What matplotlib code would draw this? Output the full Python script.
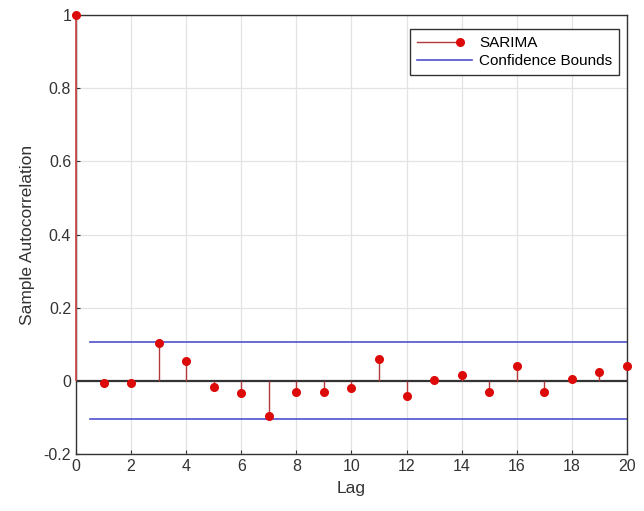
import matplotlib
matplotlib.use("Agg")
import matplotlib.pyplot as plt
from matplotlib.lines import Line2D
from matplotlib.ticker import FormatStrFormatter

lags = list(range(21))
acf_values = [1.0, -0.005, -0.005, 0.103, 0.054, -0.016, -0.033, -0.095, -0.030, -0.030,
              -0.019, 0.061, -0.041, 0.001, 0.016, -0.030, 0.040, -0.030, 0.005, 0.023, 0.040]
conf_bound = 0.105
x_ticks = list(range(0, 21, 2))
y_ticks = [-0.2, 0, 0.2, 0.4, 0.6, 0.8, 1.0]

plt.rcParams["font.family"] = ["Liberation Sans", "DejaVu Sans"]

stem_color = "#b23a3a"
marker_color = "#dd0a0a"
bound_color = "#5050d0"


class StemHandler:
    # line with a single marker at its right end, like MATLAB's stem legend
    def legend_artist(self, legend, orig_handle, fontsize, handlebox):
        x0, y0 = handlebox.xdescent, handlebox.ydescent
        w, h = handlebox.width, handlebox.height
        y = h / 2 - y0
        x_end = -x0 + w * 0.78
        line = Line2D([-x0, x_end], [y, y], color=stem_color, linewidth=1.0)
        dot = Line2D([x_end], [y], linestyle="none", marker="o",
                     color=marker_color, markersize=5.5)
        handlebox.add_artist(line)
        handlebox.add_artist(dot)
        return line


fig = plt.figure(figsize=(6.44, 5.11), dpi=100)
ax = fig.add_axes([0.118, 0.1115, 0.8556, 0.8591])

ax.axhline(0, color="#333333", linewidth=1.6, zorder=2)
ax.vlines(lags[1:], 0, acf_values[1:], color=stem_color, linewidth=1.0, zorder=3)
ax.vlines(lags[:1], 0, acf_values[:1], color="#d05050", linewidth=1.3, zorder=3, clip_on=False)
ax.plot(lags, acf_values, "o", color=marker_color, markersize=5.5, zorder=4, clip_on=False)
ax.plot([0.5, 20], [conf_bound, conf_bound], color=bound_color, linewidth=1.2, zorder=2)
ax.plot([0.5, 20], [-conf_bound, -conf_bound], color=bound_color, linewidth=1.2, zorder=2)

ax.set_xlim(0, 20)
ax.set_ylim(-0.2, 1.0)
ax.set_xticks(x_ticks)
ax.set_yticks(y_ticks)
ax.yaxis.set_major_formatter(FormatStrFormatter("%g"))
ax.grid(True, color="#e3e3e3", linewidth=0.9)
ax.set_axisbelow(True)
ax.tick_params(direction="in", length=3, labelsize=11.5, colors="#333333")
for side in ax.spines.values():
    side.set_color("#333333")
    side.set_linewidth(1.0)

ax.set_xlabel("Lag", fontsize=12.5, color="#333333", labelpad=5)
ax.set_ylabel("Sample Autocorrelation", fontsize=12.5, color="#333333", labelpad=6)

sarima_handle = Line2D([0], [0], color=stem_color)
bound_handle = Line2D([0], [0], color=bound_color, linewidth=1.2)
leg = ax.legend([sarima_handle, bound_handle], ["SARIMA", "Confidence Bounds"],
                loc="upper right", bbox_to_anchor=(1.0, 0.985),
                fontsize=11, fancybox=False, framealpha=1,
                edgecolor="#333333", handlelength=3.6, borderpad=0.45,
                labelspacing=0.25, handletextpad=0.5,
                handler_map={sarima_handle: StemHandler()})
leg.get_frame().set_linewidth(1.0)

plt.savefig("out.png", dpi=100)
